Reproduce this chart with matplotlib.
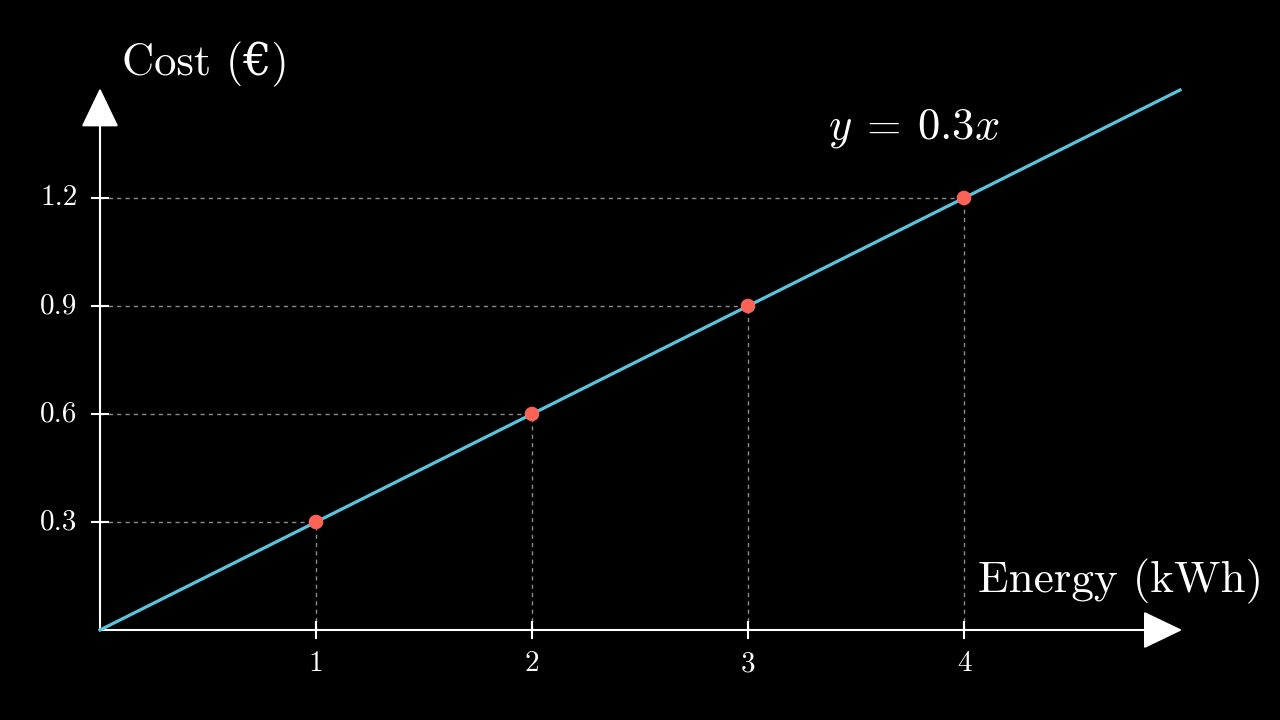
import matplotlib
matplotlib.use("Agg")
import matplotlib.pyplot as plt
from matplotlib.patches import FancyArrowPatch

plt.rcParams['mathtext.fontset'] = 'cm'
plt.rcParams['axes.unicode_minus'] = False

# data
slope = 0.3
x_line = [0, 5]
y_line = [slope * v for v in x_line]
x_pts = [1, 2, 3, 4]
y_pts = [0.3, 0.6, 0.9, 1.2]
x_ticks = [1, 2, 3, 4]
y_ticks = [0.3, 0.6, 0.9, 1.2]
y_tick_labels = ['0.3', '0.6', '0.9', '1.2']

BLUE = '#58C4DD'
RED = '#FC6255'
GREY = '#8c8c8c'
FONT = ['cmr10', 'DejaVu Serif']

fig = plt.figure(figsize=(12.8, 7.2), dpi=100, facecolor='black')
ax = fig.add_axes([100 / 1280, 90 / 720, 1080 / 1280, 540 / 720])
ax.set_facecolor('black')
ax.set_xlim(0, 5)
ax.set_ylim(0, 1.5)
ax.axis('off')

# guide lines
for xp, yp in zip(x_pts, y_pts):
    ax.plot([0, xp], [yp, yp], color=GREY, lw=1, ls=(0, (3, 3)), zorder=1)
    ax.plot([xp, xp], [0, yp], color=GREY, lw=1, ls=(0, (3, 3)), zorder=1)

# axes with arrow heads
for start, end in [((0, 0), (5.01, 0)), ((0, 0), (0, 1.505))]:
    arr = FancyArrowPatch(start, end, arrowstyle='-|>,head_length=25,head_width=12',
                          mutation_scale=1, color='white', lw=1.5,
                          shrinkA=0, shrinkB=0, clip_on=False, zorder=3)
    ax.add_patch(arr)

# ticks
tick_h = 8 / 216
tick_v = 8 / 360
for t in x_ticks:
    ax.plot([t, t], [-tick_v, tick_v], color='white', lw=1.5, clip_on=False, zorder=3)
    ax.text(t, -0.094, str(t), color='white', fontsize=21, family=FONT,
            ha='center', va='center')
for t, lab in zip(y_ticks, y_tick_labels):
    ax.plot([-tick_h, tick_h], [t, t], color='white', lw=1.5, clip_on=False, zorder=3)
    ax.text(-0.105, t, lab, color='white', fontsize=21, family=FONT,
            ha='right', va='center')

# line and points
ax.plot(x_line, y_line, color=BLUE, lw=2.3, zorder=4, clip_on=False)
ax.scatter(x_pts, y_pts, s=110, color=RED, zorder=5, edgecolors='none')

# labels
ax.text(0.1, 1.57, 'Cost (€)', color='white', fontsize=32, family=FONT,
        ha='left', va='center')
ax.text(4.065, 0.135, 'Energy (kWh)', color='white', fontsize=32.5, family=FONT,
        ha='left', va='center')
ax.text(3.765, 1.395, r'$y\:=\:0.3x$', color='white', fontsize=32,
        ha='center', va='center')

fig.savefig('out.png', dpi=100, facecolor='black')
